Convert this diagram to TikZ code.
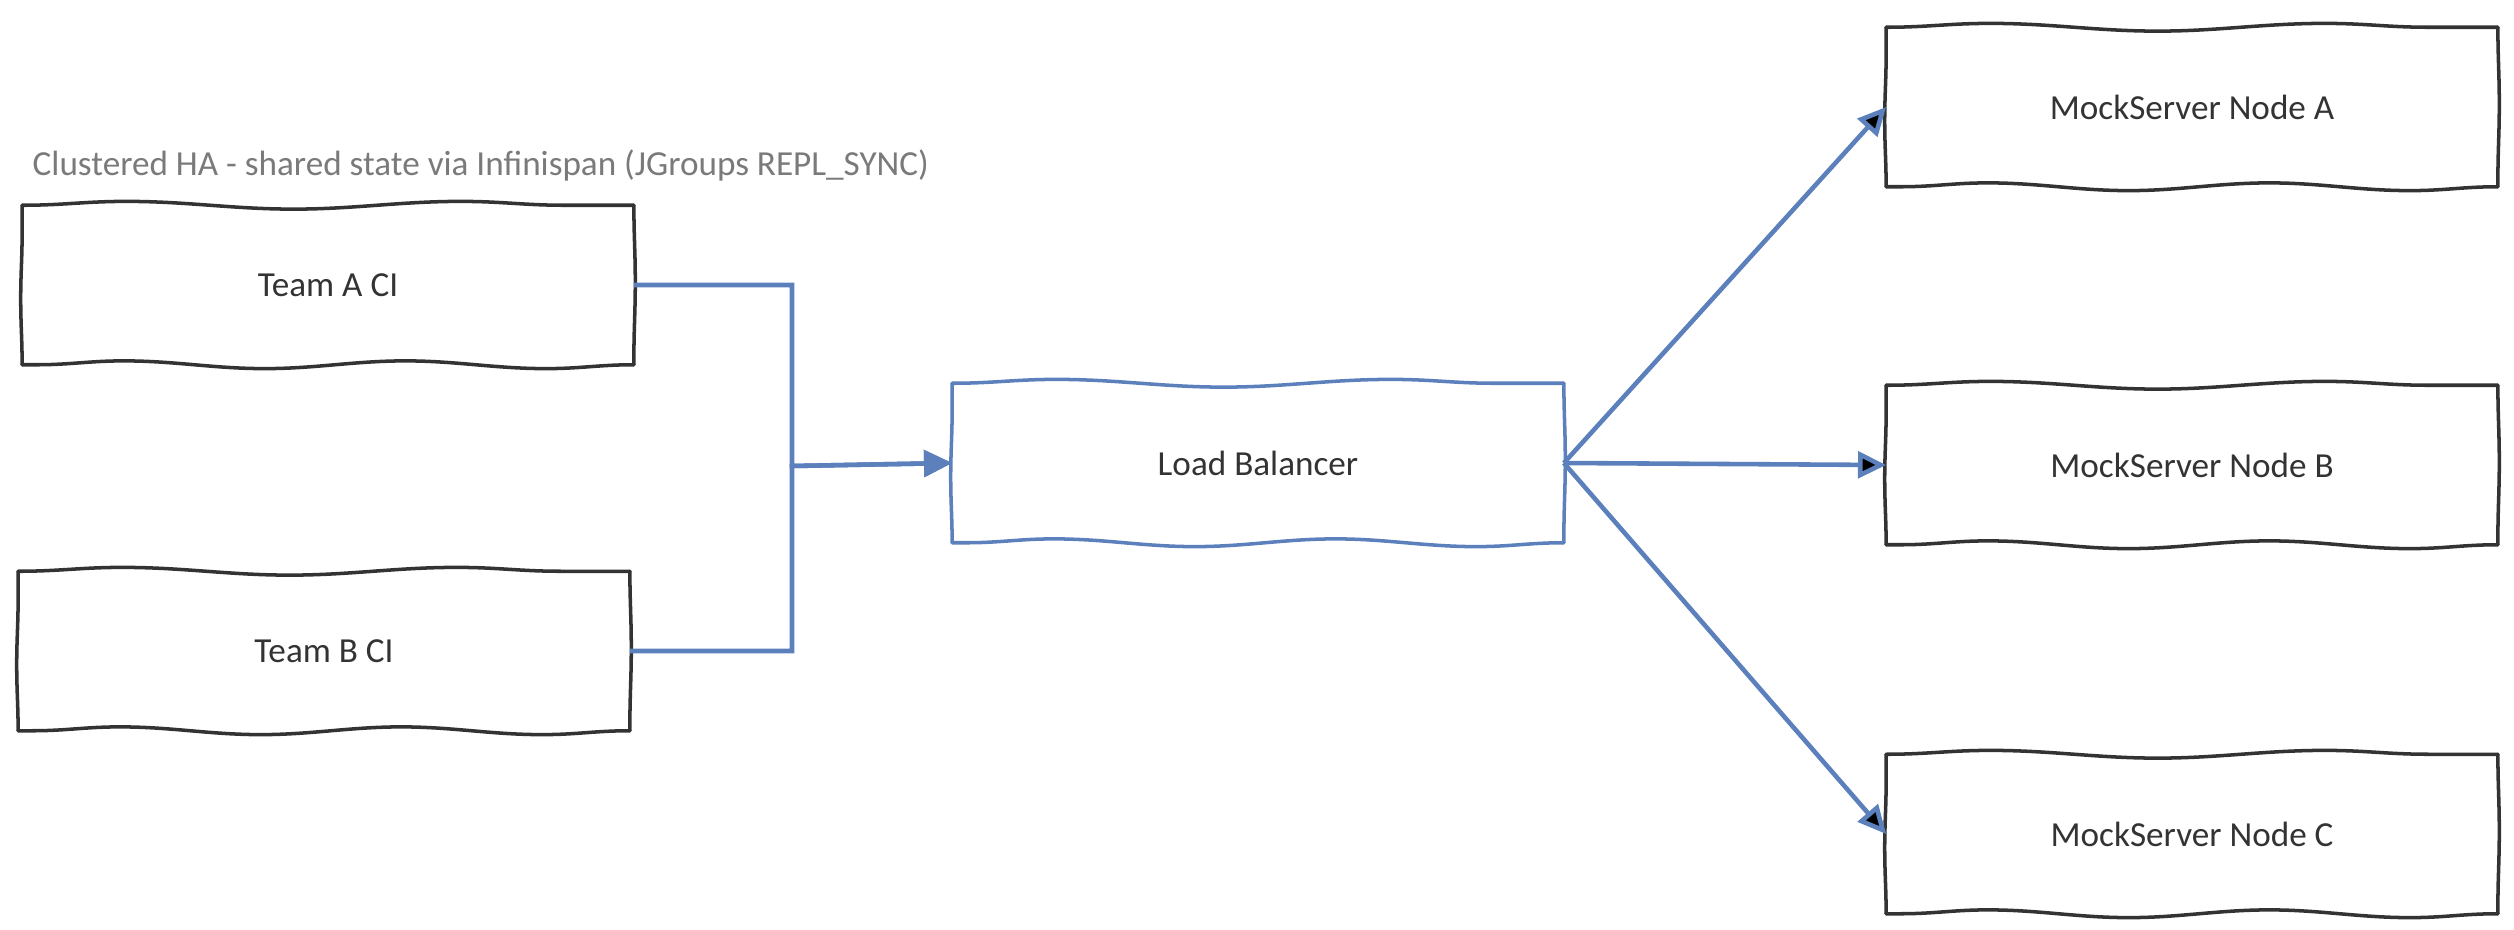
\documentclass[tikz,border=0pt]{standalone}
\usepackage{fontspec}
\setmainfont{Carlito}
\usetikzlibrary{arrows.meta}
\usetikzlibrary{positioning}
\usetikzlibrary{decorations.pathmorphing}
\definecolor{linkblue}{HTML}{5B80BC}
\definecolor{inkgray}{HTML}{333333}
\definecolor{titlegray}{HTML}{7A7A7A}
% hand-drawn border round a named node
\newcommand{\sketchborder}[2]{%
  \draw[wavy line,draw=#2,decoration={segment length=95pt}] (#1.north west) -- (#1.north east);
  \draw[wavy line,draw=#2,decoration={segment length=70pt,amplitude=0.4pt}] (#1.north east) -- (#1.south east);
  \draw[wavy line,draw=#2,decoration={segment length=80pt}] (#1.south east) -- (#1.south west);
  \draw[wavy line,draw=#2,decoration={segment length=60pt,amplitude=0.4pt}] (#1.south west) -- (#1.north west);}

\begin{document}
\begin{tikzpicture}[x=0.01cm,y=-0.01cm,->,>={Triangle[length=8pt,width=7.5pt]},
    sketch node/.style={rectangle,minimum width=6.1cm,minimum height=1.58cm,
      font=\fontsize{10}{12}\selectfont,text=inkgray},
    wavy line/.style={-,line width=1pt,line cap=round,decorate,decoration={snake,amplitude=1.1pt}},
    title text/.style={font=\fontsize{10}{12}\selectfont,text=titlegray,inner sep=0pt},
    link/.style={draw=linkblue,line width=1.3pt}]
    \useasboundingbox (0,0) rectangle (2514,930);

    % clients
    \node[title text,anchor=west] (title) at (32,165) {Clustered HA - shared state via Infinispan (JGroups REPL\_SYNC)};
    \node[sketch node] (teamA) at (328,285) {Team A CI};
    \node[sketch node] (teamB) at (324,651) {Team B CI};

    % balancer
    \node[sketch node] (lb) at (1258,463) {Load Balancer};
    \coordinate (merge) at (792,466);

    % cluster members
    \node[sketch node] (msA) at (2192,107) {MockServer Node A};
    \node[sketch node] (msB) at (2192,465) {MockServer Node B};
    \node[sketch node] (msC) at (2192,834) {MockServer Node C};

    \sketchborder{teamA}{inkgray}
    \sketchborder{teamB}{inkgray}
    \sketchborder{lb}{linkblue}
    \sketchborder{msA}{inkgray}
    \sketchborder{msB}{inkgray}
    \sketchborder{msC}{inkgray}

    \draw[link] (teamA.east) -| (merge) -- (lb.west);
    \draw[link] (teamB.east) -| (merge) -- (lb.west);
    \path[link,-] (lb.east) edge[->] (msA.west) edge[->] (msB.west) edge[->] (msC.west);
  \end{tikzpicture}
\end{document}
